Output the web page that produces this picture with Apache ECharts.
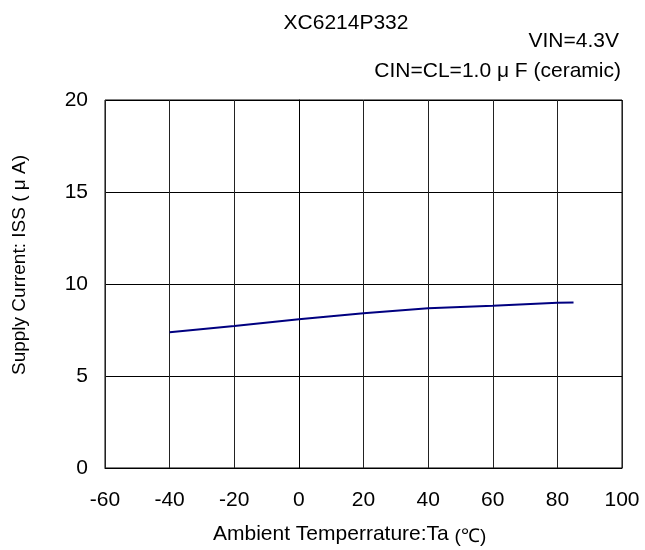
<!DOCTYPE html>
<html><head><meta charset="utf-8">
<script src="https://cdn.jsdelivr.net/npm/echarts@6/dist/echarts.min.js"></script>
<style>html,body{margin:0;padding:0;background:#fff;overflow:hidden}#c{width:645px;height:550px}</style>
</head><body><div id="c"></div>
<script>
const temps = [-40, -20, 0, 10, 20, 40, 60, 80, 85];
const issValues = [7.38, 7.72, 8.08, 8.25, 8.41, 8.68, 8.82, 8.98, 9.0];
const xTicks = [-60, -40, -20, 0, 20, 40, 60, 80, 100];
const yTicks = [0, 5, 10, 15, 20];
const titleText = 'XC6214P332';
const condition1 = 'VIN=4.3V';
const condition2 = 'CIN=CL=1.0 μ F (ceramic)';
const xNameMain = 'Ambient Temperrature:Ta';
const xNameUnit = '(℃)';
const yName = 'Supply Current: ISS ( μ A)';

const font = 'Liberation Sans, Arial, sans-serif';
const chart = echarts.init(document.getElementById('c'), null, {renderer: 'canvas'});
chart.setOption({
  animation: false,
  backgroundColor: '#fff',
  title: [
    {text: titleText, left: 346, top: 13, padding: 0, textAlign: 'center', textStyle: {fontFamily: font, fontSize: 21, fontWeight: 'normal', color: '#000'}},
    {text: condition1, right: 26, top: 31, padding: 0, textStyle: {fontFamily: font, fontSize: 21, fontWeight: 'normal', color: '#000'}},
    {text: condition2, right: 24, top: 61, padding: 0, textStyle: {fontFamily: font, fontSize: 21, fontWeight: 'normal', color: '#000'}}
  ],
  graphic: [
    {type: 'text', left: 213, top: 524, style: {
      text: xNameMain + ' {u|' + xNameUnit + '}',
      fontFamily: font, fontSize: 21, fill: '#000',
      rich: {u: {fontFamily: font, fontSize: 19, fill: '#000', padding: [4, 0, 0, 0]}}
    }},
    {type: 'text', x: 20, y: 265, rotation: Math.PI / 2, style: {text: yName, fontFamily: font, fontSize: 19, fill: '#000', align: 'center', verticalAlign: 'middle'}}
  ],
  grid: {left: 105, top: 100, width: 517, height: 368, containLabel: false,
    show: true, borderColor: '#000', borderWidth: 1, backgroundColor: 'transparent'},
  xAxis: {
    type: 'value', min: xTicks[0], max: xTicks[xTicks.length-1], interval: 20,
    axisLine: {show: true, onZero: false, lineStyle: {color: '#000', width: 1}},
    axisTick: {show: false},
    axisLabel: {fontFamily: font, fontSize: 21, color: '#000', margin: 22},
    splitLine: {show: true, lineStyle: {color: '#222', width: 1}}
  },
  yAxis: {
    type: 'value', min: yTicks[0], max: yTicks[yTicks.length-1], interval: 5,
    axisLine: {show: true, lineStyle: {color: '#000', width: 1}},
    axisTick: {show: false},
    axisLabel: {fontFamily: font, fontSize: 21, color: '#000', margin: 17},
    splitLine: {show: true, lineStyle: {color: '#000', width: 1}}
  },
  series: [{
    type: 'line',
    data: temps.map((t, i) => [t, issValues[i]]),
    showSymbol: false,
    lineStyle: {color: '#000080', width: 2},
    itemStyle: {color: '#000080'}
  }]
});
</script></body></html>
